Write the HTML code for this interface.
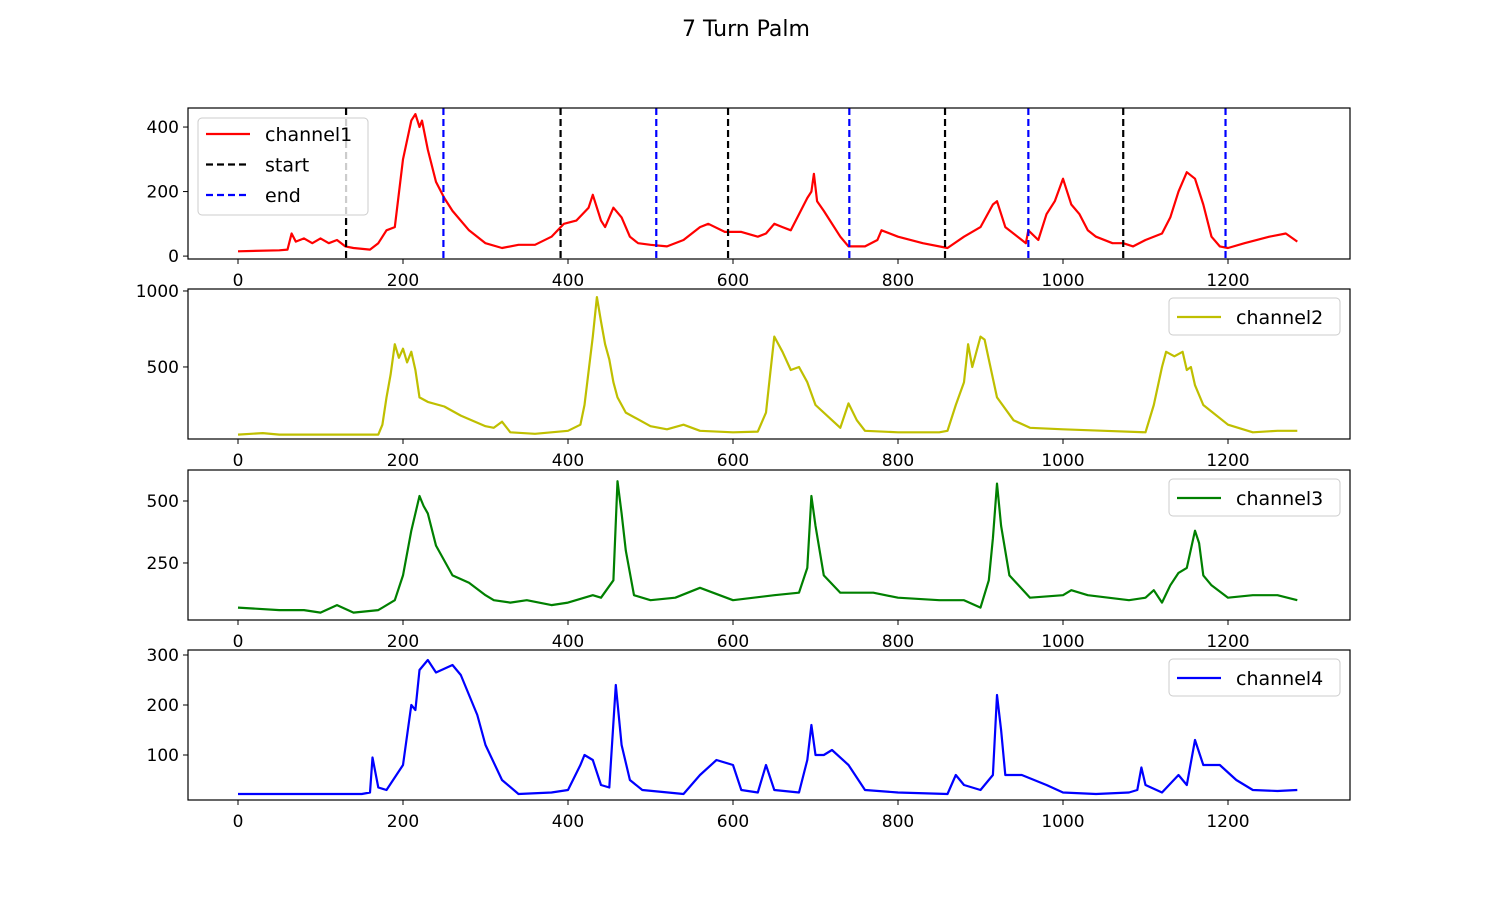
<!DOCTYPE html>
<html><head><meta charset="utf-8"><style>
body{margin:0;background:#fff}
svg{display:block;font-family:"DejaVu Sans","Liberation Sans",sans-serif}
</style></head><body>
<svg id="fig" width="1500" height="900" viewBox="0 0 1500 900">
<rect width="1500" height="900" fill="#fff"/>
<text x="746" y="36" font-size="22" text-anchor="middle">7 Turn Palm</text>
</svg>
<script>
const xTicks=[0,200,400,600,800,1000,1200];
const startLines=[131,391,594,857,1073];
const endLines=[249,507,741,958,1197];
const ch1X=[0,50,60,65,70,80,90,100,110,120,130,140,160,170,180,190,200,210,215,220,223,230,240,250,260,280,300,320,340,360,380,395,410,425,430,440,445,455,465,475,485,500,520,540,560,570,590,610,630,640,650,660,670,680,690,695,698,702,710,730,740,760,775,780,800,830,860,880,900,915,920,930,950,955,958,970,980,990,1000,1005,1010,1020,1030,1040,1060,1073,1085,1100,1120,1130,1140,1150,1160,1170,1180,1190,1200,1220,1250,1270,1284];
const ch1Y=[15,18,20,70,45,55,40,55,40,50,30,25,20,40,80,90,300,420,440,400,420,330,230,180,140,80,40,25,35,35,60,100,110,150,190,110,90,150,120,60,40,35,30,50,90,100,75,75,60,70,100,90,80,130,180,200,255,170,140,60,30,30,50,80,60,40,25,60,90,160,170,90,50,40,80,50,130,170,240,200,160,130,80,60,40,40,30,50,70,120,200,260,240,160,60,30,25,40,60,70,45];
const ch2X=[0,30,50,170,175,180,185,190,195,200,205,210,215,220,230,250,270,300,310,320,330,360,400,415,420,430,435,440,445,450,455,460,470,500,520,540,560,600,630,640,645,650,660,670,680,690,700,720,730,740,750,760,800,850,860,870,880,885,890,900,905,910,920,940,960,1000,1050,1100,1110,1120,1125,1135,1145,1150,1155,1160,1170,1200,1230,1260,1284];
const ch2Y=[55,65,55,55,120,300,450,650,560,620,530,600,480,300,270,240,180,110,100,140,70,60,80,120,250,700,960,800,650,550,400,300,200,110,90,120,80,70,75,200,450,700,600,480,500,400,250,150,100,260,150,80,70,70,80,250,400,650,500,700,680,550,300,150,100,90,80,70,250,500,600,570,600,480,500,380,250,120,70,80,80];
const ch3X=[0,50,80,100,120,140,170,190,200,210,220,225,230,240,260,280,300,310,330,350,380,400,430,440,455,460,465,470,480,500,530,560,600,650,680,690,695,700,710,730,770,800,850,880,900,910,915,920,925,935,960,1000,1010,1030,1080,1100,1110,1120,1130,1140,1150,1160,1165,1170,1180,1200,1230,1260,1284];
const ch3Y=[70,60,60,50,80,50,60,100,200,380,520,480,450,320,200,170,120,100,90,100,80,90,120,110,180,580,450,300,120,100,110,150,100,120,130,230,520,400,200,130,130,110,100,100,70,180,350,570,400,200,110,120,140,120,100,110,140,90,160,210,230,380,330,200,160,110,120,120,100];
const ch4X=[0,150,160,163,170,180,200,210,215,220,230,240,260,270,290,300,320,340,380,400,415,420,430,440,450,458,465,475,490,540,560,580,600,610,630,640,650,680,690,695,700,710,720,740,760,800,860,870,880,900,915,920,925,930,950,980,1000,1040,1080,1090,1095,1100,1120,1140,1150,1160,1170,1190,1210,1230,1260,1284];
const ch4Y=[22,22,25,95,35,30,80,200,190,270,290,265,280,260,180,120,50,22,25,30,80,100,90,40,35,240,120,50,30,22,60,90,80,30,25,80,30,25,90,160,100,100,110,80,30,25,22,60,40,30,60,220,150,60,60,40,25,22,25,30,75,40,25,60,40,130,80,80,50,30,28,30];
const vCh1Ticks=[0,200,400], vCh2Ticks=[500,1000], vCh3Ticks=[250,500], vCh4Ticks=[100,200,300];
const NS='http://www.w3.org/2000/svg';
const svg=document.getElementById('fig');
function mk(t,a,p){const e=document.createElementNS(NS,t);for(const k in a)e.setAttribute(k,a[k]);(p||svg).appendChild(e);return e;}
const L=188,R=1350;
const sx=v=>238+v*0.825;
const panels=[
 {top:108,bot:259,ymin:-9,ymax:459,x:ch1X,y:ch1Y,c:'#ff0000',ticks:vCh1Ticks,name:'channel1'},
 {top:289,bot:439,ymin:26,ymax:1013,x:ch2X,y:ch2Y,c:'#bfbf00',ticks:vCh2Ticks,name:'channel2'},
 {top:470,bot:620,ymin:20,ymax:625,x:ch3X,y:ch3Y,c:'#008000',ticks:vCh3Ticks,name:'channel3'},
 {top:650,bot:800,ymin:10,ymax:310,x:ch4X,y:ch4Y,c:'#0000ff',ticks:vCh4Ticks,name:'channel4'}];
panels.forEach((p,i)=>{
 const g=mk('g',{});
 
 
 const sy=v=>p.bot-(v-p.ymin)/(p.ymax-p.ymin)*(p.bot-p.top);
 xTicks.forEach(t=>{const X=sx(t);mk('line',{x1:X,x2:X,y1:p.bot,y2:p.bot+5,stroke:'#000','stroke-width':1},g);
  const tx=mk('text',{x:X,y:p.bot+27,'font-size':17,'text-anchor':'middle'},g);tx.textContent=t;
  });
 p.ticks.forEach(t=>{const Y=sy(t);mk('line',{x1:L-5,x2:L,y1:Y,y2:Y,stroke:'#000'},g);
  const tx=mk('text',{x:L-9,y:Y+6,'font-size':17,'text-anchor':'end'},g);tx.textContent=t;
  });
 const pts=p.x.map((v,j)=>sx(v).toFixed(1)+','+sy(p.y[j]).toFixed(1)).join(' ');
 const pl=mk('polyline',{points:pts,fill:'none',stroke:p.c,'stroke-width':2.2,'stroke-linejoin':'round'},g);
 
 if(i==0){
  startLines.forEach(v=>{const l=mk('line',{x1:sx(v),x2:sx(v),y1:p.top,y2:p.bot,stroke:'#000','stroke-width':2.2,'stroke-dasharray':'7,4'},g);
   });
  endLines.forEach(v=>{const l=mk('line',{x1:sx(v),x2:sx(v),y1:p.top,y2:p.bot,stroke:'#00f','stroke-width':2.2,'stroke-dasharray':'7,4'},g);
   });
 }
 mk('rect',{x:L,y:p.top,width:R-L,height:p.bot-p.top,fill:'none',stroke:'#000','stroke-width':1.2},g);
 const lg=mk('g',{},g);
 
 
 if(i==0){
  mk('rect',{x:198,y:118,width:170,height:97,rx:4,fill:'#fff','fill-opacity':0.8,stroke:'#ccc'},lg);
  const items=[['channel1','#f00',''],['start','#000','7,4'],['end','#00f','7,4']];
  items.forEach((it,k)=>{const Y=134+k*30.5;mk('line',{x1:206,x2:250,y1:Y,y2:Y,stroke:it[1],'stroke-width':2.2,'stroke-dasharray':it[2]},lg);
   const t=mk('text',{x:265,y:Y+7,'font-size':19},lg);t.textContent=it[0];
   });
 } else {
  const y0=p.top+9;
  mk('rect',{x:1169,y:y0,width:171,height:37,rx:4,fill:'#fff','fill-opacity':0.8,stroke:'#ccc'},lg);
  mk('line',{x1:1177,x2:1221,y1:y0+19,y2:y0+19,stroke:p.c,'stroke-width':2.2},lg);
  const t=mk('text',{x:1236,y:y0+26,'font-size':19},lg);t.textContent=p.name;
  
 }
});
</script>
</body></html>
